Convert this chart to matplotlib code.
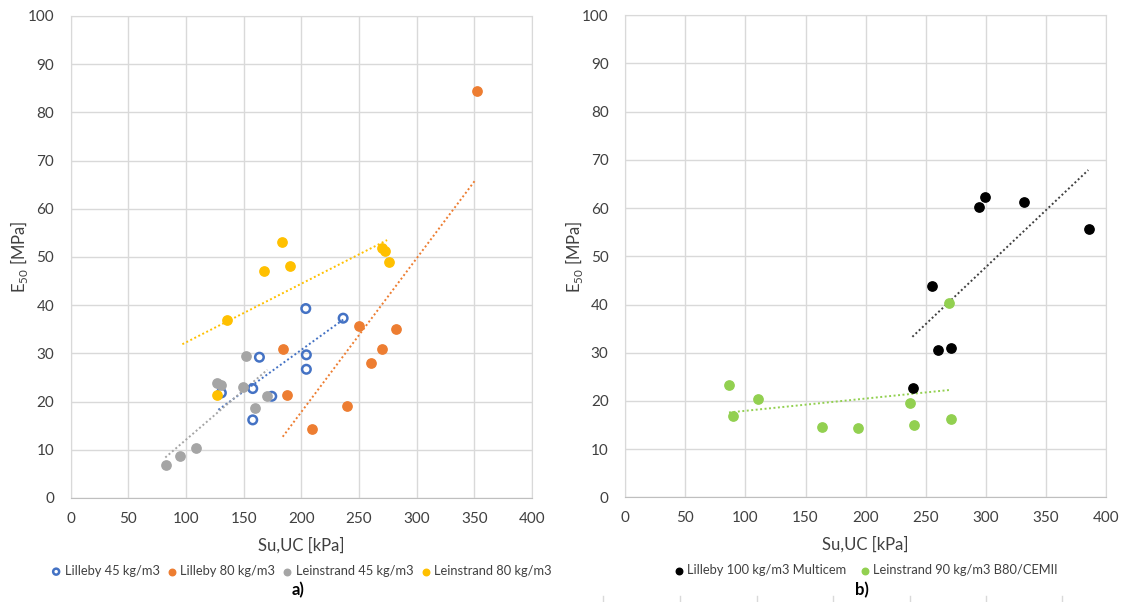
import numpy as np
import matplotlib.pyplot as plt
from matplotlib.lines import Line2D

plt.rcParams['font.family'] = ['Lato', 'DejaVu Sans']

# ---- data a) ----
lil45_x = [203.8, 236.2, 163.6, 204.3, 204.3, 157.8, 130.6, 174.3, 157.8]
lil45_y = [39.3, 37.3, 29.2, 29.7, 26.7, 22.7, 21.8, 21.1, 16.2]
lil80_x = [352.4, 250.3, 282.1, 184.1, 270.0, 260.7, 187.6, 239.6, 209.5]
lil80_y = [84.5, 35.7, 35.0, 30.9, 30.9, 27.9, 21.4, 19.1, 14.4]
lei45_x = [152.0, 126.9, 130.6, 149.4, 170.5, 159.6, 108.7, 95.0, 82.7]
lei45_y = [29.5, 23.9, 23.5, 23.0, 21.2, 18.7, 10.3, 8.7, 6.8]
lei80_x = [183.3, 167.9, 190.5, 270.0, 272.9, 275.8, 135.6, 126.9]
lei80_y = [53.2, 47.1, 48.1, 51.8, 51.3, 48.9, 36.9, 21.4]

# trendline end points
tr_lil45 = ([128.0, 238.0], [18.3, 37.3])
tr_lil80 = ([183.8, 351.0], [12.7, 66.0])
tr_lei45 = ([82.0, 170.5], [8.4, 26.6])
tr_lei80 = ([96.8, 274.3], [31.9, 53.5])

# ---- data b) ----
mc_x = [294.6, 299.0, 331.8, 385.9, 255.5, 260.5, 271.3, 239.1]
mc_y = [60.2, 62.4, 61.3, 55.7, 43.9, 30.6, 31.0, 22.7]
b80_x = [269.1, 86.3, 110.7, 89.6, 163.9, 193.4, 236.9, 240.2, 271.3]
b80_y = [40.4, 23.2, 20.3, 16.8, 14.6, 14.4, 19.6, 14.9, 16.2]
tr_mc = ([238.9, 385.3], [33.3, 67.9])
tr_b80 = ([86.3, 271.3], [17.6, 22.3])

blue = '#4472C4'
orange = '#ED7D31'
gray = '#A5A5A5'
yellow = '#FFC000'
green = '#92D050'

fig = plt.figure(figsize=(11.41, 6.02), dpi=100)
ax1 = fig.add_axes([0.062, 0.1728, 0.4043, 0.8007])
ax2 = fig.add_axes([0.548, 0.1739, 0.4213, 0.8007])

ms = 45
dots = (0, (1, 1.3))

# a)
ax1.plot(*tr_lil45, color=blue, lw=1.4, ls=dots)
ax1.plot(*tr_lil80, color=orange, lw=1.4, ls=dots)
ax1.plot(*tr_lei45, color=gray, lw=1.4, ls=dots)
ax1.plot(*tr_lei80, color=yellow, lw=1.4, ls=dots)
ax1.scatter(lil45_x, lil45_y, s=38, facecolors='none', edgecolors=blue, linewidths=1.8,
            label='Lilleby 45 kg/m3', zorder=3)
ax1.scatter(lil80_x, lil80_y, s=ms, color=orange, label='Lilleby 80 kg/m3', zorder=3)
ax1.scatter(lei45_x, lei45_y, s=ms, color=gray, label='Leinstrand 45 kg/m3', zorder=3)
ax1.scatter(lei80_x, lei80_y, s=ms, color=yellow, label='Leinstrand 80 kg/m3', zorder=3)

# b)
ax2.plot(*tr_mc, color='#404040', lw=1.4, ls=dots)
ax2.plot(*tr_b80, color=green, lw=1.4, ls=dots)
ax2.scatter(mc_x, mc_y, s=ms, color='black', label='Lilleby 100 kg/m3 Multicem', zorder=3)
ax2.scatter(b80_x, b80_y, s=ms, color=green, label='Leinstrand 90 kg/m3 B80/CEMII', zorder=3)

for ax, lx in ((ax1, -0.088), (ax2, -0.084)):
    ax.set_xlim(0, 400)
    ax.set_ylim(0, 100)
    ax.set_xticks(np.arange(0, 401, 50))
    ax.set_yticks(np.arange(0, 101, 10))
    ax.grid(True, color='#d9d9d9', lw=1)
    ax.set_axisbelow(True)
    for s in ax.spines.values():
        s.set_color('#d9d9d9')
    ax.spines['bottom'].set_color('#bfbfbf')
    ax.tick_params(length=0, labelsize=11, colors='#404040', pad=10)
    ax.tick_params(axis='y', pad=12)
    ax.set_xlabel('Su,UC [kPa]', fontsize=12, color='#404040', labelpad=8)
    ax.set_ylabel(r'E$_{\mathregular{50}}$ [MPa]', fontsize=12, color='#404040')
    ax.yaxis.set_label_coords(lx, 0.5)

leg1 = ax1.legend(loc='upper center', bbox_to_anchor=(0.5, -0.115), ncol=4, frameon=False,
                  fontsize=9.3, handletextpad=0.25, columnspacing=0.55, markerscale=0.7,
                  handlelength=0.8, labelcolor='#404040')
leg2 = ax2.legend(loc='upper center', bbox_to_anchor=(0.5, -0.115), ncol=2, frameon=False,
                  fontsize=9.3, handletextpad=0.25, columnspacing=1.0, markerscale=0.7,
                  handlelength=0.8, labelcolor='#404040')

fig.text(298 / 1141, 1 - 590 / 602, 'a)', ha='center', va='center', fontsize=12, fontweight='bold')
fig.text(862 / 1141, 1 - 590 / 602, 'b)', ha='center', va='center', fontsize=12, fontweight='bold')

# faint tick marks of the chart cut off below
for px in [603, 680, 757, 833, 910, 986, 1062]:
    fig.add_artist(Line2D([px / 1141, px / 1141], [0, 6 / 602], color='#d9d9d9', lw=1))

fig.savefig('out.png', dpi=100)
